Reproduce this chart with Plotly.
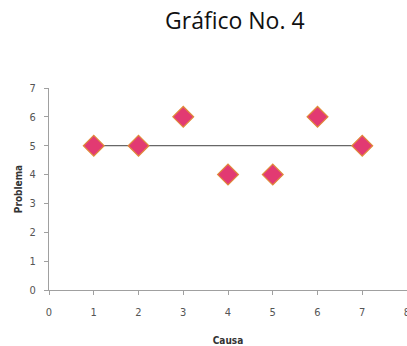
import plotly.graph_objects as go

causa = [1, 2, 3, 4, 5, 6, 7]
problema = [5, 5, 6, 4, 4, 6, 5]
promedio = sum(problema) / len(problema)

x_ticks = [0, 1, 2, 3, 4, 5, 6, 7, 8]
y_ticks = [0, 1, 2, 3, 4, 5, 6, 7]

fig = go.Figure()

# horizontal mean line across the causes
fig.add_trace(go.Scatter(
    x=[causa[0], causa[-1]], y=[promedio, promedio],
    mode="lines", line=dict(color="#404040", width=1),
    hoverinfo="skip", showlegend=False,
))

fig.add_trace(go.Scatter(
    x=causa, y=problema, mode="markers",
    marker=dict(symbol="diamond", size=16, color="#E23A72",
                line=dict(color="#E08A3A", width=1.2)),
    showlegend=False,
))

fig.update_layout(
    width=407, height=346,
    margin=dict(l=49, r=0, t=88, b=56),
    paper_bgcolor="white", plot_bgcolor="white",
    title=dict(text="Gráfico No. 4", x=0.577, xanchor="center",
               y=0.94, yanchor="middle", automargin=False,
               font=dict(family="Open Sans, Liberation Sans, sans-serif",
                         size=23, color="#111111")),
    font=dict(family="Liberation Sans Narrow, DejaVu Sans Condensed, sans-serif",
              color="#555555", size=10),
    xaxis=dict(range=[0, 8], tickvals=x_ticks, ticktext=[str(v) for v in x_ticks],
               showgrid=False, zeroline=False, showline=True, linecolor="#A0A0A0",
               linewidth=1, ticks="outside", ticklen=4, tickcolor="#A0A0A0",
               ticklabeloverflow="allow", automargin=False, ticklabelstandoff=8,
               tickfont=dict(size=11, color="#555555"),
               title=dict(text="<b>Causa</b>", standoff=18,
                          font=dict(size=10, color="#333333"))),
    yaxis=dict(range=[0, 7], tickvals=y_ticks, automargin=False,
               showgrid=False, zeroline=False, showline=True, linecolor="#A0A0A0",
               linewidth=1, ticks="outside", ticklen=4, tickcolor="#A0A0A0",
               ticklabelstandoff=6,
               tickfont=dict(size=11, color="#555555"),
               title=dict(text="<b>Problema</b>", standoff=5,
                          font=dict(size=10, color="#333333"))),
)

fig.write_html("out.html")
